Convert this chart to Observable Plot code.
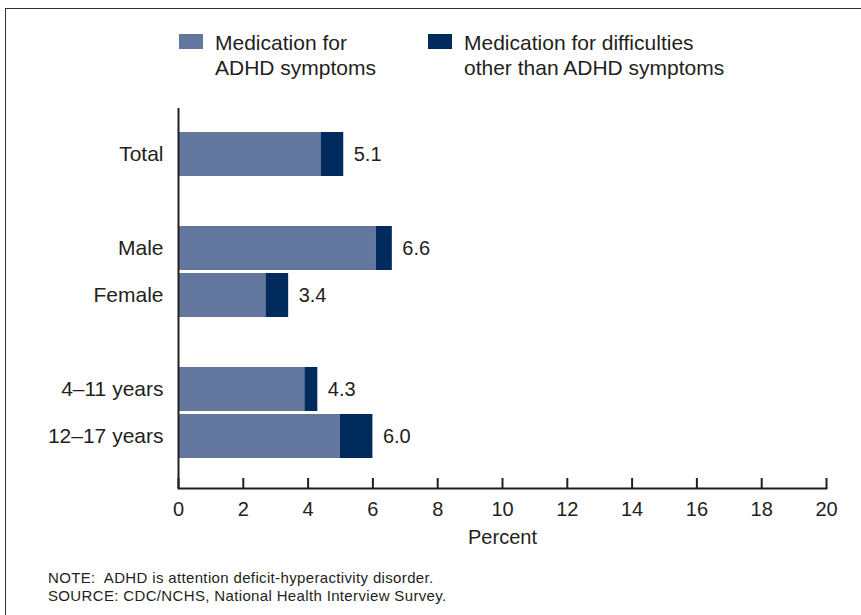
<!DOCTYPE html>
<html>
<head>
<meta charset="utf-8">
<script src="https://cdn.jsdelivr.net/npm/d3@7"></script>
<script src="https://cdn.jsdelivr.net/npm/@observablehq/plot@0.6"></script>
<style>
  html, body { margin: 0; padding: 0; background: #fff; overflow: hidden; }
  body { width: 861px; height: 615px; position: relative; font-family: "Liberation Sans", Arial, Helvetica, sans-serif; color: #231f20; }
  #border { position: absolute; left: 5px; top: 8px; width: 900px; height: 700px; border-top: 1.5px solid #333; border-left: 1.5px solid #333; box-sizing: border-box; pointer-events: none; z-index: 10; }
  #legend { position: relative; height: 100px; }
  .item { position: absolute; top: 30px; display: flex; align-items: flex-start; font-size: 21px; line-height: 25px; }
  .sw { width: 24px; height: 15px; margin-top: 4px; margin-right: 12px; flex: none; }
  #plot { position: relative; height: 460px; }
  #notes { position: relative; padding-left: 48px; padding-top: 9px; font-size: 15px; letter-spacing: 0.35px; line-height: 18px; }
</style>
</head>
<body>
<div id="border"></div>
<div id="legend"></div>
<div id="plot"></div>
<div id="notes"></div>
<script>
// ---- data ----
const categories = ["Total", "Male", "Female", "4–11 years", "12–17 years"];
const adhdMed = [4.4, 6.1, 2.7, 3.9, 5.0];
const otherMed = [0.7, 0.5, 0.7, 0.4, 1.0];
const totals = [5.1, 6.6, 3.4, 4.3, 6.0];
const seriesNames = ["Medication for ADHD symptoms", "Medication for difficulties other than ADHD symptoms"];
const seriesLegend = [["Medication for", "ADHD symptoms"], ["Medication for difficulties", "other than ADHD symptoms"]];
const seriesColors = ["#63769e", "#002b5c"];
const yDomain = ["Total", " ", "Male", "Female", "  ", "4–11 years", "12–17 years"];
const xTicks = [0, 2, 4, 6, 8, 10, 12, 14, 16, 18, 20];
const notes = ["NOTE:\u00a0 ADHD is attention deficit-hyperactivity disorder.", "SOURCE: CDC/NCHS, National Health Interview Survey."];

// ---- long table ----
const rows = [];
categories.forEach((c, i) => {
  rows.push({group: c, series: seriesNames[0], value: adhdMed[i]});
  rows.push({group: c, series: seriesNames[1], value: otherMed[i]});
});
const labels = categories.map((c, i) => ({group: c, total: totals[i], end: adhdMed[i] + otherMed[i]}));

// ---- legend ----
const legend = document.getElementById("legend");
const legendLeft = [179, 428];
seriesLegend.forEach((lines, i) => {
  const d = document.createElement("div");
  d.className = "item";
  d.style.left = legendLeft[i] + "px";
  d.innerHTML = `<div class="sw" style="background:${seriesColors[i]}"></div><div>${lines.join("<br>")}</div>`;
  legend.appendChild(d);
});

// ---- chart ----
const ink = "#231f20";
const chart = Plot.plot({
  width: 861,
  height: 460,
  marginLeft: 178,
  marginRight: 35,
  marginTop: 8,
  marginBottom: 72,
  style: {fontFamily: "'Liberation Sans', Arial, sans-serif", color: ink, background: "transparent"},
  x: {domain: [0, 20], ticks: xTicks},
  y: {domain: yDomain, paddingInner: 0.0625, paddingOuter: 0, insetTop: 23, insetBottom: 28},
  color: {domain: seriesNames, range: seriesColors},
  marks: [
    Plot.barX(rows, {x: "value", y: "group", fill: "series", order: seriesNames}),
    Plot.text(labels, {x: "end", y: "group", text: d => d.total.toFixed(1), textAnchor: "start", dx: 10, fontSize: 20, fill: ink}),
    Plot.axisY({tickSize: 0, tickPadding: 15, fontSize: 21, label: null, fill: ink}),
    Plot.axisX({ticks: xTicks, tickSize: -10, tickPadding: 23, fontSize: 20, strokeWidth: 2, stroke: ink, fill: ink, label: "Percent", labelArrow: "none", labelAnchor: "center", labelOffset: 55}),
    Plot.ruleX([0], {stroke: ink, strokeWidth: 2}),
    Plot.frame({anchor: "bottom", stroke: ink, strokeWidth: 2})
  ]
});
document.getElementById("plot").appendChild(chart);

// ---- notes ----
document.getElementById("notes").innerHTML = notes.join("<br>");
</script>
</body>
</html>
